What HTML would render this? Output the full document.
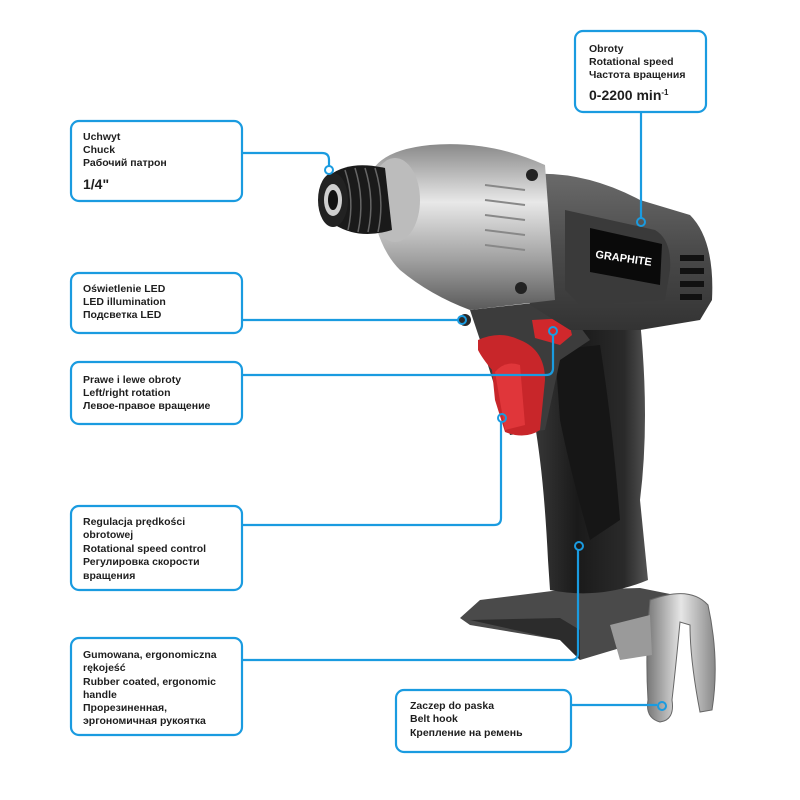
<!DOCTYPE html>
<html><head><meta charset="utf-8"><style>
html,body{margin:0;padding:0;background:#fff}
svg{display:block}
text{font-family:"Liberation Sans","DejaVu Sans",sans-serif;font-weight:bold;fill:#1e1e1e;font-size:10.5px}
.big{font-size:14px}
</style></head><body>
<svg width="800" height="800" viewBox="0 0 800 800" xmlns="http://www.w3.org/2000/svg">
<defs>
<linearGradient id="silver" x1="0" y1="0" x2="0" y2="1">
<stop offset="0" stop-color="#8a8a8a"/><stop offset=".35" stop-color="#e8e8e8"/><stop offset=".7" stop-color="#a0a0a0"/><stop offset="1" stop-color="#5a5a5a"/></linearGradient>
<linearGradient id="dark" x1="0" y1="0" x2="1" y2="0">
<stop offset="0" stop-color="#3a3a3a"/><stop offset=".4" stop-color="#1a1a1a"/><stop offset=".8" stop-color="#2a2a2a"/><stop offset="1" stop-color="#555"/></linearGradient>
<linearGradient id="gray" x1="0" y1="0" x2="0" y2="1">
<stop offset="0" stop-color="#6a6a6a"/><stop offset=".5" stop-color="#4a4a4a"/><stop offset="1" stop-color="#333"/></linearGradient>
<linearGradient id="hook" x1="0" y1="0" x2="1" y2="0">
<stop offset="0" stop-color="#777"/><stop offset=".5" stop-color="#e6e6e6"/><stop offset="1" stop-color="#888"/></linearGradient>
</defs>

<!-- drill: base -->
<polygon points="460,618 480,600 560,590 640,588 690,598 660,615 640,642 580,660 560,640 470,625" fill="#4a4a4a"/>
<polygon points="470,620 560,618 580,630 580,660 560,640" fill="#2c2c2c"/>
<!-- handle -->
<path d="M545,330 L640,320 Q650,420 640,500 L648,580 Q600,600 550,590 L548,560 Q545,500 540,460 Q535,420 530,400 Z" fill="url(#dark)"/>
<path d="M555,350 L600,345 Q612,420 620,520 L590,540 Q570,470 560,420 Z" fill="#161616"/>
<!-- upper handle/trigger housing -->
<path d="M470,310 L560,300 L590,340 L560,360 L545,430 L510,435 L480,340 Z" fill="#3c3c3c"/>
<!-- trigger -->
<path d="M478,340 Q500,330 520,340 Q545,350 545,380 L540,430 Q525,440 505,432 L495,400 L492,370 Q482,358 478,350 Z" fill="#c8262a"/>
<path d="M495,372 Q505,360 520,365 L525,425 L505,430 Z" fill="#e0363a"/>
<!-- switch -->
<path d="M532,320 L568,318 L572,335 L560,345 L535,338 Z" fill="#d0282c"/>
<!-- motor housing -->
<path d="M520,175 Q580,168 640,200 L690,215 Q715,240 712,300 L700,320 L640,330 L570,330 L530,305 Z" fill="url(#gray)"/>
<path d="M565,210 L655,230 Q672,240 670,270 L665,300 L580,305 L565,290 Z" fill="#3a3a3a"/>
<polygon points="590,228 662,244 660,285 590,272" fill="#0a0a0a"/>
<text x="595" y="262" style="fill:#fff;font-size:11px" transform="rotate(8 625 260)">GRAPHITE</text>
<g fill="#111"><rect x="680" y="255" width="24" height="6"/><rect x="680" y="268" width="24" height="6"/><rect x="680" y="281" width="24" height="6"/><rect x="680" y="294" width="22" height="6"/></g>
<!-- silver head -->
<path d="M370,175 Q380,150 430,145 Q490,140 545,165 L555,300 L470,310 Q430,295 400,270 Q370,240 370,175 Z" fill="url(#silver)"/>
<g stroke="#888" stroke-width="2"><line x1="485" y1="185" x2="525" y2="190"/><line x1="485" y1="200" x2="525" y2="205"/><line x1="485" y1="215" x2="525" y2="220"/><line x1="485" y1="230" x2="525" y2="235"/><line x1="485" y1="245" x2="525" y2="250"/></g>
<circle cx="532" cy="175" r="6" fill="#222"/><circle cx="521" cy="288" r="6" fill="#222"/>
<!-- chuck -->
<ellipse cx="395" cy="200" rx="25" ry="42" fill="#bcbcbc"/>
<path d="M330,175 Q350,160 385,168 L392,230 Q360,240 335,225 Z" fill="#1a1a1a"/>
<g stroke="#666" stroke-width="1.5" fill="none"><path d="M345,170 Q355,200 348,230"/><path d="M355,168 Q365,200 358,232"/><path d="M365,168 Q375,200 368,232"/><path d="M375,168 Q385,200 378,232"/></g>
<ellipse cx="333" cy="200" rx="15" ry="27" fill="#222"/>
<ellipse cx="333" cy="200" rx="9" ry="16" fill="#cfcfcf"/>
<ellipse cx="333" cy="200" rx="5" ry="10" fill="#111"/>
<!-- LED -->
<circle cx="465" cy="320" r="6" fill="#2a2a2a"/>
<!-- belt hook -->
<path d="M650,600 Q690,585 708,605 Q720,660 712,710 L700,712 Q690,660 690,625 L680,622 Q676,665 672,700 Q675,720 660,722 Q645,718 648,700 Q645,650 650,600 Z" fill="url(#hook)" stroke="#666" stroke-width="1"/>
<path d="M610,625 L650,615 L652,655 L620,660 Z" fill="#9a9a9a"/>

<!-- connectors -->
<g fill="none" stroke="#1a9be0" stroke-width="2.2">
<rect x="575" y="31" width="131" height="81" rx="8"/>
<rect x="71" y="121" width="171" height="80" rx="8"/>
<rect x="71" y="273" width="171" height="60" rx="8"/>
<rect x="71" y="362" width="171" height="62" rx="8"/>
<rect x="71" y="506" width="171" height="84" rx="8"/>
<rect x="71" y="638" width="171" height="97" rx="8"/>
<rect x="396" y="690" width="175" height="62" rx="8"/>
<path d="M641,112 V218"/>
<path d="M242,153 H322 Q329,153 329,160 V166"/>
<path d="M242,320 H458"/>
<path d="M242,375 H546 Q553,375 553,368 V335"/>
<path d="M242,525 H494 Q501,525 501,518 V422"/>
<path d="M242,660 H571 Q578,660 578,653 V550"/>
<path d="M571,705 H657"/>
</g>
<g fill="none" stroke="#1a9be0" stroke-width="2">
<circle cx="641" cy="222" r="4"/><circle cx="329" cy="170" r="4"/><circle cx="462" cy="320" r="4"/>
<circle cx="553" cy="331" r="4"/><circle cx="502" cy="418" r="4"/><circle cx="579" cy="546" r="4"/><circle cx="662" cy="706" r="4"/>
</g>

<!-- texts -->
<text x="589" y="52">Obroty</text>
<text x="589" y="65">Rotational speed</text>
<text x="589" y="78">Частота вращения</text>
<text x="589" y="100" class="big">0-2200 min<tspan font-size="8" dy="-5">-1</tspan></text>

<text x="83" y="140">Uchwyt</text>
<text x="83" y="153">Chuck</text>
<text x="83" y="166">Рабочий патрон</text>
<text x="83" y="189" class="big">1/4"</text>

<text x="83" y="292">Oświetlenie LED</text>
<text x="83" y="305">LED illumination</text>
<text x="83" y="318">Подсветка LED</text>

<text x="83" y="383">Prawe i lewe obroty</text>
<text x="83" y="396">Left/right rotation</text>
<text x="83" y="409">Левое-правое вращение</text>

<text x="83" y="525">Regulacja prędkości</text>
<text x="83" y="538">obrotowej</text>
<text x="83" y="552">Rotational speed control</text>
<text x="83" y="565">Регулировка скорости</text>
<text x="83" y="579">вращения</text>

<text x="83" y="658">Gumowana, ergonomiczna</text>
<text x="83" y="671">rękojeść</text>
<text x="83" y="685">Rubber coated, ergonomic</text>
<text x="83" y="698">handle</text>
<text x="83" y="711">Прорезиненная,</text>
<text x="83" y="724">эргономичная рукоятка</text>

<text x="410" y="709">Zaczep do paska</text>
<text x="410" y="722">Belt hook</text>
<text x="410" y="736">Крепление на ремень</text>
</svg>
</body></html>
